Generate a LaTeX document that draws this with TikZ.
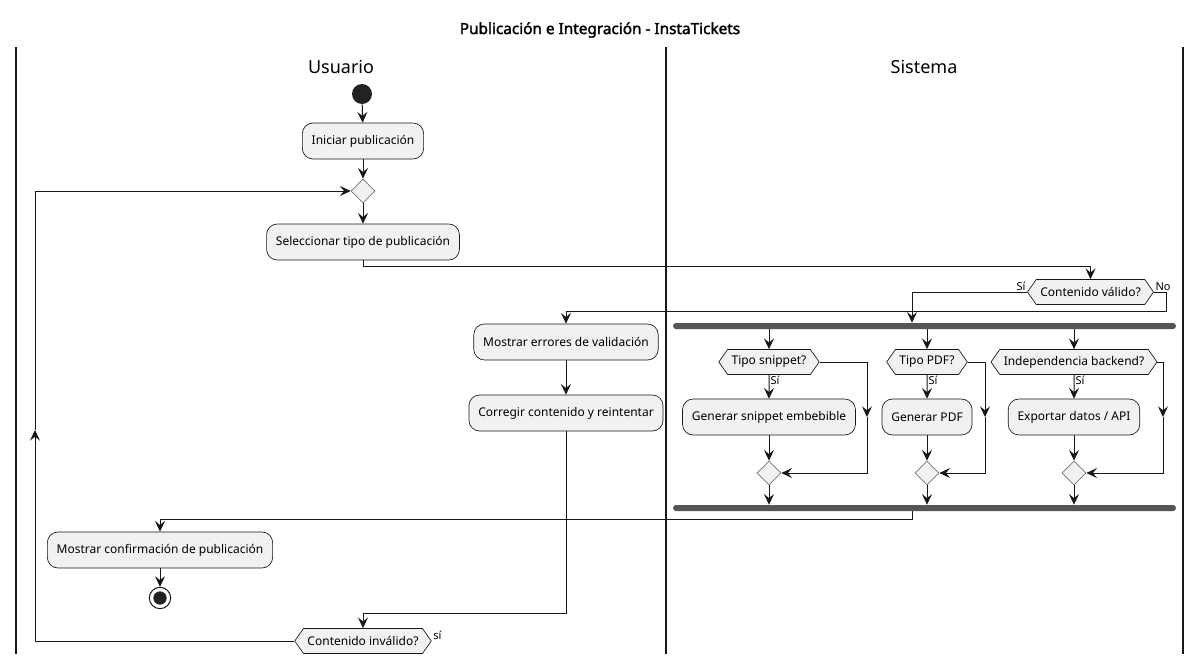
\documentclass[tikz,border=0pt]{standalone}
\usepackage{fontspec}
\setmainfont{Noto Sans}[AutoFakeBold=2]
\usetikzlibrary{shapes.geometric}
\usetikzlibrary{shapes.symbols}
\usetikzlibrary{arrows.meta}

\definecolor{boxfill}{HTML}{F1F1F1}
\definecolor{linecol}{HTML}{181818}
\definecolor{barcol}{HTML}{555555}
\definecolor{startcol}{HTML}{222222}

\begin{document}
\begin{tikzpicture}[x=0.75pt, y=-0.75pt,
      every node/.style={align=center, font=\fontsize{9}{11}\selectfont},
      action/.style={shape=rectangle, draw=linecol, fill=boxfill, rounded corners=8pt,
        minimum height=27pt, inner xsep=7pt, line width=0.5pt},
      test/.style={shape=signal, signal to=east and west, signal pointer angle=110,
        draw=linecol, fill=boxfill, minimum height=18.75pt, inner xsep=3pt, inner ysep=1pt, line width=0.5pt},
      mergept/.style={shape=diamond, draw=linecol!60, fill=boxfill, minimum size=18pt, inner sep=0pt, line width=0.5pt},
      forkbar/.style={shape=rectangle, fill=barcol, rounded corners=2pt, minimum width=377pt,
        minimum height=4.5pt, inner sep=0pt},
      startpt/.style={shape=circle, fill=startcol, minimum size=15pt, inner sep=0pt},
      endpt/.style={shape=circle, draw=linecol, fill=white, line width=0.75pt, minimum size=16pt, inner sep=0pt,
        path picture={\fill[startcol] (path picture bounding box.center) circle (5pt);}},
      lbl/.style={font=\fontsize{8.25}{9}\selectfont, inner sep=1pt},
      flow/.style={draw=linecol, line width=0.75pt, -{Stealth[length=8pt, width=7.5pt, inset=3pt]}},
      lane/.style={draw=linecol, line width=1.1pt}]
  \useasboundingbox (0,0) rectangle (1200,664);

  % title and swimlanes
  \node[font=\fontsize{11.5}{13}\selectfont\bfseries] (title) at (600,30) {Publicación e Integración - InstaTickets};
  \node[font=\fontsize{13.5}{15}\selectfont] (usr) at (341,67) {Usuario};
  \node[font=\fontsize{13.5}{15}\selectfont] (sys) at (924,67) {Sistema};
  \draw[lane] (16,47) -- (16,654);
  \draw[lane] (666,47) -- (666,654);
  \draw[lane] (1183,47) -- (1183,654);

  % Usuario
  \node[startpt] (start) at (362,94) {};
  \node[action] (ini) at (363,141) {Iniciar publicación};
  \node[mergept] (loop) at (363,191) {};
  \node[action] (sel) at (363,242) {Seleccionar tipo de publicación};
  \node[action] (err) at (566,342) {Mostrar errores de validación};
  \node[action] (corr) at (566,413) {Corregir contenido y reintentar};
  \node[test] (inv) at (363,641) {Contenido inválido?};
  \node[action] (conf) at (160,550) {Mostrar confirmación de publicación};
  \node[endpt] (fin) at (160,598) {};

  % Sistema
  \node[test] (cval) at (1090.5,292) {Contenido válido?};
  \node[forkbar] (fork) at (924.5,326) {};
  \node[forkbar] (join) at (924.5,508) {};
  \node[test] (tsnip) at (769,362) {Tipo snippet?};
  \node[action] (gsnip) at (769,417) {Generar snippet embebible};
  \node[mergept] (msnip) at (769,473) {};
  \node[test] (tpdf) at (927,362) {Tipo PDF?};
  \node[action] (gpdf) at (927,417) {Generar PDF};
  \node[mergept] (mpdf) at (927,473) {};
  \node[test] (tback) at (1074,362) {Independencia backend?};
  \node[action] (gback) at (1074,417) {Exportar datos / API};
  \node[mergept] (mback) at (1074,473) {};

  % free ends of connectors
  \coordinate (colsi) at (912,0);
  \coordinate (back) at (35,430);
  \coordinate (ssnip) at (867,417);
  \coordinate (spdf) at (985,417);
  \coordinate (sback) at (1163,417);

  % labels
  \node[lbl, anchor=south east] (ycval) at (cval.west) {Sí};
  \node[lbl, anchor=south west] (ncval) at (cval.east) {No};
  \node[lbl, anchor=south west] (yinv) at (inv.east) {sí};
  \node[lbl, anchor=north west] (ysnip) at (tsnip.south) {Sí};
  \node[lbl, anchor=north west] (ypdf) at (tpdf.south) {Sí};
  \node[lbl, anchor=north west] (yback) at (tback.south) {Sí};

  % connectors
  \draw[flow] (start) -- (ini);
  \draw[flow] (ini) -- (loop);
  \draw[flow] (loop) -- (sel);
  \draw[flow] (sel.south) -- ++(0,6) -| (cval.north);
  \draw[flow] (cval.west) -| (fork.north -| colsi);
  \draw[flow] (cval.east) -- ++(13,0) -- ++(0,19) -| (err.north);
  \draw[flow] (err) -- (corr);
  \draw[flow] (corr.south) -- ++(0,182) -| (inv.north);
  \draw[flow] (inv.west) -| (back);
  \draw[flow] (back) |- (loop.west);

  \draw[flow] (fork.south -| tsnip) -- (tsnip.north);
  \draw[flow] (tsnip) -- (gsnip);
  \draw[flow] (gsnip) -- (msnip);
  \draw[flow] (tsnip.east) -| (ssnip);
  \draw[flow] (ssnip) |- (msnip.east);
  \draw[flow] (msnip) -- (join.north -| msnip);

  \draw[flow] (fork.south -| tpdf) -- (tpdf.north);
  \draw[flow] (tpdf) -- (gpdf);
  \draw[flow] (gpdf) -- (mpdf);
  \draw[flow] (tpdf.east) -| (spdf);
  \draw[flow] (spdf) |- (mpdf.east);
  \draw[flow] (mpdf) -- (join.north -| mpdf);

  \draw[flow] (fork.south -| tback) -- (tback.north);
  \draw[flow] (tback) -- (gback);
  \draw[flow] (gback) -- (mback);
  \draw[flow] (tback.east) -| (sback);
  \draw[flow] (sback) |- (mback.east);
  \draw[flow] (mback) -- (join.north -| mback);

  \draw[flow] (join.south -| colsi) -- ++(0,8) -| (conf.north);
  \draw[flow] (conf) -- (fin);
\end{tikzpicture}
\end{document}
